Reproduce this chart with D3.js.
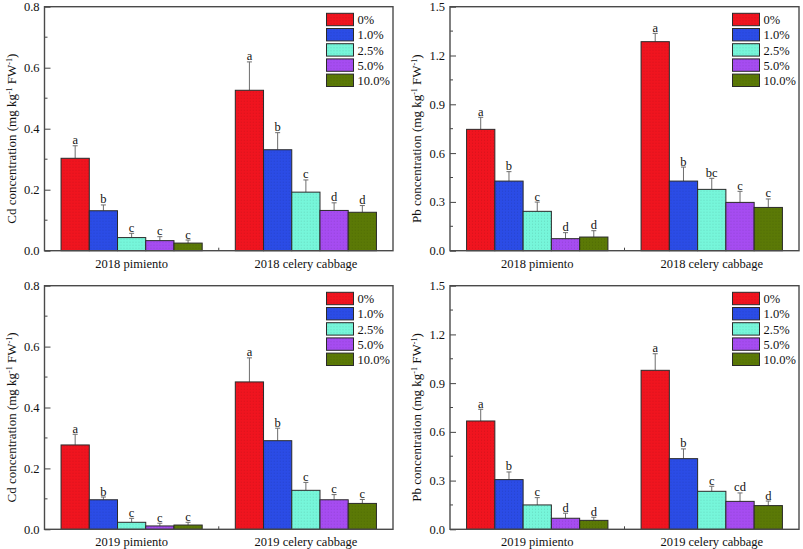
<!DOCTYPE html>
<html lang="en">
<head>
<meta charset="UTF-8">
<script src="https://d3js.org/d3.v7.min.js"></script>
<title>Cd and Pb concentration</title>
<style>
  body { margin: 0; background: #fff; }
  svg { display: block; font-family: "Liberation Serif", "Times New Roman", serif; }
</style>
</head>
<body>
<svg id="chart" width="803" height="549"></svg>
<script>
// treatments (legend)
const rates = ["0%", "1.0%", "2.5%", "5.0%", "10.0%"];
const rateColors = ["#f0141f", "#2b4ce6", "#76f6da", "#a64cf1", "#5b7906"];

const groups2018 = ["2018 pimiento", "2018 celery cabbage"];
const groups2019 = ["2019 pimiento", "2019 celery cabbage"];

// means, one row per crop
const cd2018 = [[0.303, 0.131, 0.043, 0.033, 0.025], [0.526, 0.331, 0.192, 0.132, 0.126]];
const cd2018Err = [[0.041, 0.019, 0.014, 0.013, 0.010], [0.093, 0.056, 0.040, 0.025, 0.022]];
const cd2018Sig = [["a", "b", "c", "c", "c"], ["a", "b", "c", "d", "d"]];

const pb2018 = [[0.746, 0.428, 0.242, 0.074, 0.084], [1.285, 0.428, 0.377, 0.297, 0.266]];
const pb2018Err = [[0.074, 0.058, 0.057, 0.037, 0.039], [0.051, 0.086, 0.068, 0.068, 0.052]];
const pb2018Sig = [["a", "b", "c", "d", "d"], ["a", "b", "bc", "c", "c"]];

const cd2019 = [[0.277, 0.097, 0.023, 0.011, 0.014], [0.484, 0.291, 0.128, 0.097, 0.085]];
const cd2019Err = [[0.035, 0.009, 0.013, 0.009, 0.009], [0.079, 0.041, 0.026, 0.017, 0.013]];
const cd2019Sig = [["a", "b", "c", "c", "c"], ["a", "b", "c", "c", "c"]];

const pb2019 = [[0.667, 0.306, 0.150, 0.068, 0.055], [0.979, 0.435, 0.234, 0.172, 0.146]];
const pb2019Err = [[0.072, 0.047, 0.045, 0.031, 0.019], [0.102, 0.060, 0.031, 0.052, 0.028]];
const pb2019Sig = [["a", "b", "c", "d", "d"], ["a", "b", "c", "cd", "d"]];

const cdTicks = [0, 0.2, 0.4, 0.6, 0.8];
const pbTicks = [0, 0.3, 0.6, 0.9, 1.2, 1.5];

const svg = d3.select("#chart");
const fontSize = 12.5;

// dotted fill patterns like the original
const defs = svg.append("defs");
rateColors.forEach((c, i) => {
  const p = defs.append("pattern")
    .attr("id", "pat" + i)
    .attr("width", 3).attr("height", 3)
    .attr("patternUnits", "userSpaceOnUse");
  p.append("rect").attr("width", 3).attr("height", 3).attr("fill", c);
  p.append("rect").attr("x", 1).attr("y", 1).attr("width", 1).attr("height", 1)
    .attr("fill", d3.color(c).darker(0.35));
});

function panel(opt) {
  const { left, top, width, height, groups, values, errs, sig, maxY, ticks, element } = opt;
  const g = svg.append("g").attr("transform", `translate(${left},${top})`);

  const x = d3.scaleBand().domain(groups).range([0, width]).padding(0);
  const inner = d3.scaleBand().domain(rates)
    .range([x.bandwidth() * 0.095, x.bandwidth() * 0.905]).padding(0);
  const y = d3.scaleLinear().domain([0, maxY]).range([height, 0]);

  // bars
  groups.forEach((grp, gi) => {
    const gg = g.append("g").attr("transform", `translate(${x(grp)},0)`);
    rates.forEach((r, ri) => {
      const v = values[gi][ri];
      const e = errs[gi][ri];
      const cx = inner(r) + inner.bandwidth() / 2;
      gg.append("line")
        .attr("x1", cx).attr("x2", cx)
        .attr("y1", y(v)).attr("y2", y(v + e))
        .attr("stroke", "#6d6d6d").attr("stroke-width", 1);
      gg.append("line")
        .attr("x1", cx - 2.5).attr("x2", cx + 2.5)
        .attr("y1", y(v + e)).attr("y2", y(v + e))
        .attr("stroke", "#6d6d6d").attr("stroke-width", 1);
      gg.append("rect")
        .attr("x", inner(r))
        .attr("y", y(v))
        .attr("width", inner.bandwidth())
        .attr("height", y(0) - y(v))
        .attr("fill", `url(#pat${ri})`)
        .attr("stroke", "#2a2a2a")
        .attr("stroke-width", 1);
      gg.append("text")
        .attr("x", cx)
        .attr("y", y(v + e) - 1.5)
        .attr("text-anchor", "middle")
        .attr("font-size", fontSize)
        .attr("fill", "#111")
        .text(sig[gi][ri]);
    });
  });

  // y axis with inward ticks
  const yAxis = d3.axisLeft(y).tickValues(ticks).tickFormat(d3.format(".1f"))
    .tickSizeInner(-6).tickSizeOuter(0).tickPadding(5);
  const ya = g.append("g").call(yAxis);
  ya.select(".domain").remove();
  ya.selectAll("line").attr("stroke", "#444");
  ya.selectAll("text").attr("x", -5).attr("font-size", fontSize)
    .attr("font-family", "Liberation Serif").attr("fill", "#111");

  // minor ticks
  const step = ticks[1] - ticks[0];
  const minors = ticks.slice(0, -1).map(t => t + step / 2);
  g.selectAll(".minor").data(minors).join("line")
    .attr("x1", 0).attr("x2", 3)
    .attr("y1", d => y(d)).attr("y2", d => y(d))
    .attr("stroke", "#444");

  // x axis
  const xAxis = d3.axisBottom(x).tickSize(0).tickPadding(8);
  const xa = g.append("g").attr("transform", `translate(0,${height})`).call(xAxis);
  xa.select(".domain").remove();
  xa.selectAll("text").attr("font-size", fontSize)
    .attr("font-family", "Liberation Serif").attr("fill", "#111");
  g.append("line")
    .attr("x1", x.bandwidth()).attr("x2", x.bandwidth())
    .attr("y1", height).attr("y2", height - 3)
    .attr("stroke", "#444");

  // frame
  g.append("rect")
    .attr("width", width).attr("height", height)
    .attr("fill", "none").attr("stroke", "#4a4a4a").attr("stroke-width", 1.4);

  // y title (sits a little below the plot centre, as in the original)
  const t = g.append("text")
    .attr("transform", `translate(-29,${height / 2 + 10}) rotate(-90)`)
    .attr("text-anchor", "middle")
    .attr("font-size", 13)
    .attr("fill", "#111");
  t.append("tspan").text(`${element} concentration (mg kg`);
  t.append("tspan").attr("baseline-shift", "super").attr("font-size", 8).text("-1");
  t.append("tspan").text(" FW");
  t.append("tspan").attr("baseline-shift", "super").attr("font-size", 8).text("-1");
  t.append("tspan").text(")");

  // legend
  const lg = g.append("g").attr("transform", `translate(${width - 66.5},6.6)`);
  rates.forEach((r, i) => {
    lg.append("rect")
      .attr("x", 0).attr("y", i * 15.2)
      .attr("width", 27).attr("height", 12.4)
      .attr("fill", `url(#pat${i})`)
      .attr("stroke", "#2a2a2a").attr("stroke-width", 1);
    lg.append("text")
      .attr("x", 31).attr("y", i * 15.2 + 11)
      .attr("font-size", fontSize)
      .attr("fill", "#111")
      .text(r);
  });
}

panel({ left: 44.5, top: 6.7, width: 348.5, height: 244, groups: groups2018,
  values: cd2018, errs: cd2018Err, sig: cd2018Sig, maxY: 0.8, ticks: cdTicks, element: "Cd" });
panel({ left: 450, top: 6.7, width: 349, height: 244, groups: groups2018,
  values: pb2018, errs: pb2018Err, sig: pb2018Sig, maxY: 1.5, ticks: pbTicks, element: "Pb" });
panel({ left: 44.5, top: 285.7, width: 348.5, height: 243.6, groups: groups2019,
  values: cd2019, errs: cd2019Err, sig: cd2019Sig, maxY: 0.8, ticks: cdTicks, element: "Cd" });
panel({ left: 450, top: 285.7, width: 349, height: 243.6, groups: groups2019,
  values: pb2019, errs: pb2019Err, sig: pb2019Sig, maxY: 1.5, ticks: pbTicks, element: "Pb" });
</script>
</body>
</html>
